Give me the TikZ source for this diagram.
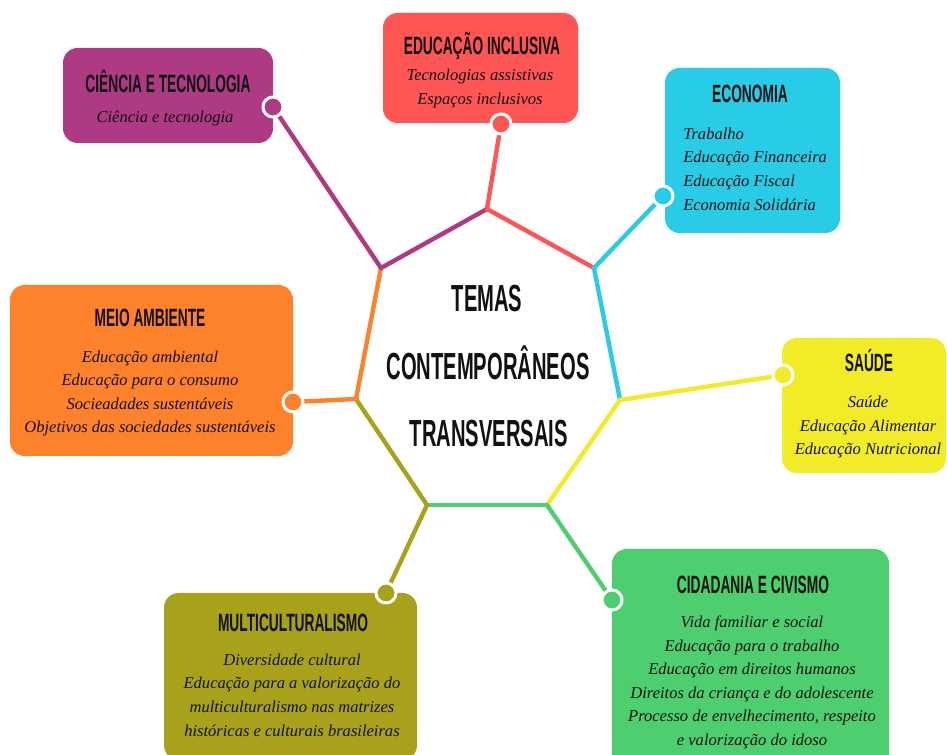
\documentclass[tikz,border=0pt]{standalone}
\usepackage{fontspec}
\usetikzlibrary{fit}
\newfontfamily\hfont[FakeStretch=0.55]{Liberation Sans Bold}
\newfontfamily\tfont[FakeStretch=0.535]{Liberation Sans Bold}
\newfontfamily\ifont{Liberation Serif Italic}
\newcommand\itemfont{\ifont\fontsize{12.4}{17.7}\selectfont}
\definecolor{cpurple}{RGB}{174,58,132}
\definecolor{cred}{RGB}{255,85,85}
\definecolor{ccyan}{RGB}{41,204,230}
\definecolor{corange}{RGB}{254,129,44}
\definecolor{cyellow}{RGB}{242,235,40}
\definecolor{cgreen}{RGB}{77,207,112}
\definecolor{colive}{RGB}{168,161,26}
\definecolor{ctext}{RGB}{17,17,17}
\tikzset{
  box/.style={inner sep=0pt, rounded corners=11pt},
  head/.style={font=\hfont\fontsize{18.75}{20}\selectfont, text=ctext, inner sep=0pt, text height=13.4pt, text depth=0pt},
  title/.style={font=\tfont\fontsize{28.3}{30}\selectfont, text=ctext, inner sep=0pt, text height=20.3pt, text depth=0pt},
  items/.style={font=\itemfont, text=ctext, align=center, inner sep=0pt},
  dot/.style={circle, inner sep=0pt, minimum size=15pt, draw=white, line width=2.25pt},
  link/.style={line width=3.3pt, line cap=round},
}
\begin{document}
\begin{tikzpicture}[x=0.75pt,y=-0.75pt]
\useasboundingbox (0,0) rectangle (947,755);
% boxes
\node[box, fill=cpurple, fit={(63,48) (273,143)}] (ct) {};
\node[box, fill=cred, fit={(383,13) (578,123)}] (ei) {};
\node[box, fill=ccyan, fit={(665,68) (840,233)}] (ec) {};
\node[box, fill=corange, fit={(10,285) (293,456)}] (ma) {};
\node[box, fill=cyellow, fit={(782,338) (946,473)}] (sa) {};
\node[box, fill=cgreen, fit={(612,549) (889,775)}] (cc) {};
\node[box, fill=colive, fit={(164,593) (417,760)}] (mu) {};
% heptagon vertices
\coordinate (v1) at (381,268);
\coordinate (v2) at (487,209);
\coordinate (v3) at (594,268);
\coordinate (v4) at (620,400);
\coordinate (v5) at (547,505);
\coordinate (v6) at (427,505);
\coordinate (v7) at (356,399);
% dots (positions)
\coordinate (ctd) at (273,107);
\coordinate (eid) at (501,124);
\coordinate (ecd) at (663,196);
\coordinate (mad) at (293,402);
\coordinate (sad) at (783,375);
\coordinate (ccd) at (612,600);
\coordinate (mud) at (386,593);
% heptagon edges
\draw[link, cpurple] (v1) -- (v2);
\draw[link, cred] (v2) -- (v3);
\draw[link, ccyan] (v3) -- (v4);
\draw[link, cyellow] (v4) -- (v5);
\draw[link, cgreen] (v5) -- (v6);
\draw[link, colive] (v6) -- (v7);
\draw[link, corange] (v7) -- (v1);
% spokes
\draw[link, cpurple] (ctd) -- (v1);
\draw[link, cred] (eid) -- (v2);
\draw[link, ccyan] (ecd) -- (v3);
\draw[link, cyellow] (sad) -- (v4);
\draw[link, cgreen] (ccd) -- (v5);
\draw[link, colive] (mud) -- (v6);
\draw[link, corange] (mad) -- (v7);
% dots
\node[dot, fill=cpurple] (ctdot) at (ctd) {};
\node[dot, fill=cred] (eidot) at (eid) {};
\node[dot, fill=ccyan] (ecdot) at (ecd) {};
\node[dot, fill=corange] (madot) at (mad) {};
\node[dot, fill=cyellow] (sadot) at (sad) {};
\node[dot, fill=cgreen] (ccdot) at (ccd) {};
\node[dot, fill=colive] (mudot) at (mud) {};
% title
\node[title] (t1) at (487,298) {TEMAS};
\node[title] (t2) at (488,366) {CONTEMPORÂNEOS};
\node[title] (t3) at (489,433) {TRANSVERSAIS};
% headings
\node[head] (cth) at (168,84) {CIÊNCIA E TECNOLOGIA};
\node[head] (eih) at (482,46) {EDUCAÇÃO INCLUSIVA};
\node[head] (ech) at (750,94) {ECONOMIA};
\node[head] (mah) at (150,318) {MEIO AMBIENTE};
\node[head] (sah) at (869,363) {SAÚDE};
\node[head] (cch) at (753,585) {CIDADANIA E CIVISMO};
\node[head] (muh) at (293,623) {MULTICULTURALISMO};
% items
\node[items] (cti) at (165,119) {Ciência e tecnologia};
\node[items] (eii) at (480,88.5) {Tecnologias assistivas\\Espaços inclusivos};
\node[items, align=left, anchor=west] (eci) at (683,169) {Trabalho\\Educação Financeira\\Educação Fiscal\\Economia Solidária};
\node[items] (mai) at (150,393.5) {Educação ambiental\\Educação para o consumo\\Socieadades sustentáveis\\Objetivos das sociedades sustentáveis};
\node[items] (sai) at (868,427) {Saúde\\Educação Alimentar\\Educação Nutricional};
\node[items] (cci) at (752,682.5) {Vida familiar e social\\Educação para o trabalho\\Educação em direitos humanos\\Direitos da criança e do adolescente\\Processo de envelhecimento, respeito\\e valorização do idoso};
\node[items] (mui) at (292,695) {Diversidade cultural\\Educação para a valorização do\\multiculturalismo nas matrizes\\históricas e culturais brasileiras};
\end{tikzpicture}
\end{document}
